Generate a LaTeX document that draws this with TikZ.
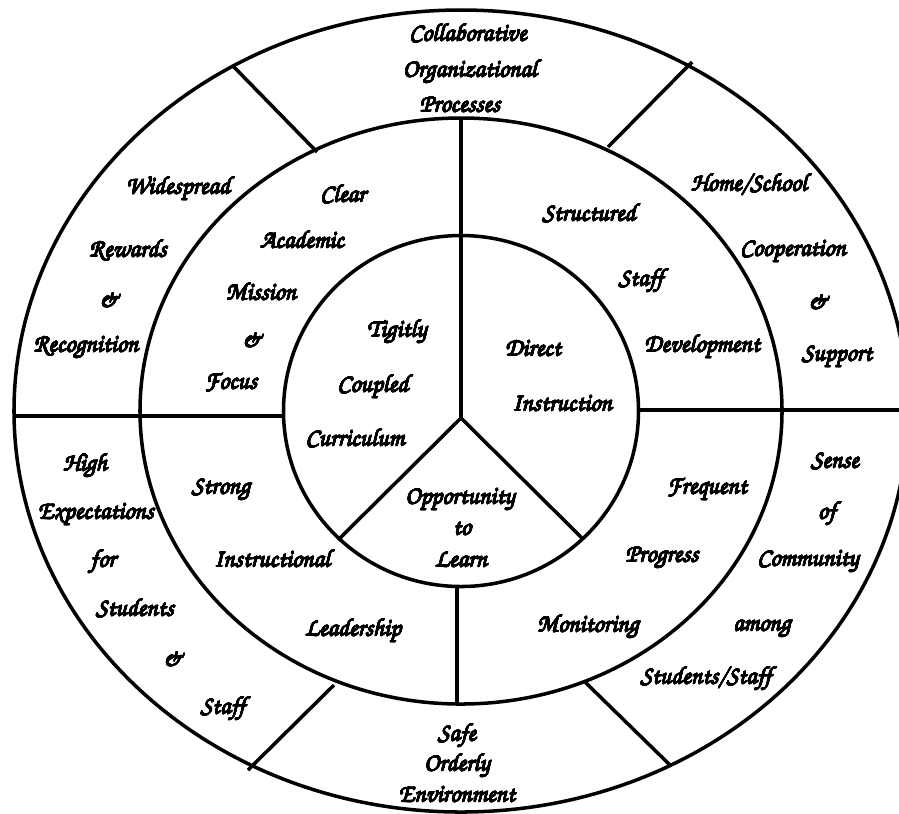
\documentclass[tikz,border=0pt]{standalone}
\usepackage[T1,TU]{fontenc}
\usepackage[copies]{contour}
\contourlength{0.1pt}
\contournumber{16}

\newcommand{\inked}[1]{\contour{black}{#1}}

\tikzset{
    word/.style={font=\fontencoding{T1}\fontfamily{pzc}\fontseries{mb}\fontshape{it}\fontsize{7.1}{8.5}\selectfont,
        inner sep=0pt, text height=5pt, text depth=0pt}
}

\begin{document}
\begin{tikzpicture}[line width=1pt]

    % Define radii of the three rings
    \def\rxo{4.47}
    \def\ryo{4.01}
    \def\rxm{3.21}
    \def\rym{2.93}
    \def\rxi{1.775}
    \def\ryi{1.755}

    \useasboundingbox (-4.61,-4.02) rectangle (4.38,4.11);
    \clip (-4.61,-4.02) rectangle (4.38,4.11);

    % Draw the three rings
    \draw (0,0) ellipse [x radius=\rxo, y radius=\ryo];
    \draw (0,0) ellipse [x radius=\rxm, y radius=\rym];
    \draw (0,0) ellipse [x radius=\rxi, y radius=\ryi];

    % Draw the inner split in three
    \draw (0,\rym) -- (0,-0.07);
    \draw (0,-0.07) -- (-1.23,-1.29);
    \draw (0,-0.07) -- (1.21,-1.27);

    % Draw the middle split in four
    \draw (-0.04,-1.76) -- (-0.04,-2.92);
    \draw (-\rxo,-0.05) -- (-\rxi,-0.05);
    \draw (\rxi,0.01) -- (4.6,0.01);

    % Draw the outer split in six
    \draw (-2.28,3.45) -- (-1.44,2.59);
    \draw (2.31,3.49) -- (1.47,2.64);
    \draw (-1.27,-2.74) -- (-2.13,-3.59);
    \draw (1.24,-2.71) -- (2.09,-3.54);

    % Inner ring
    \node[word] (tig) at (-0.64, 0.83) {\inked{Tigitly}};
    \node[word] (cou) at (-0.88, 0.28) {\inked{Coupled}};
    \node[word] (cur) at (-1.06,-0.26) {\inked{Curriculum}};
    \node[word] (dir) at (0.72, 0.64) {\inked{Direct}};
    \node[word] (ins) at (1.01, 0.09) {\inked{Instruction}};
    \node[word] (opp) at (-0.01,-0.84) {\inked{Opportunity}};
    \node[word] (to)  at (0.01,-1.15) {\inked{to}};
    \node[word] (lea) at (0,-1.47) {\inked{Learn}};

    % Middle ring
    \node[word] (cle) at (-1.18, 2.18) {\inked{Clear}};
    \node[word] (aca) at (-1.59, 1.72) {\inked{Academic}};
    \node[word] (mis) at (-2.00, 1.20) {\inked{Mission}};
    \node[word] (amp1) at (-2.09, 0.73) {\inked{\&}};
    \node[word] (foc) at (-2.30, 0.31) {\inked{Focus}};
    \node[word] (str) at (1.28, 1.99) {\inked{Structured}};
    \node[word] (sta) at (1.80, 1.34) {\inked{Staff}};
    \node[word] (dev) at (2.41, 0.68) {\inked{Development}};
    \node[word] (fre) at (2.46,-0.74) {\inked{Frequent}};
    \node[word] (pro) at (2.01,-1.42) {\inked{Progress}};
    \node[word] (mon) at (1.27,-2.12) {\inked{Monitoring}};
    \node[word] (stro) at (-2.40,-0.74) {\inked{Strong}};
    \node[word] (inst) at (-1.89,-1.47) {\inked{Instructional}};
    \node[word] (lead) at (-1.08,-2.16) {\inked{Leadership}};

    % Outer ring
    \node[word] (col) at (0.07, 3.79) {\inked{Collaborative}};
    \node[word] (org) at (0.09, 3.43) {\inked{Organizational}};
    \node[word] (proc) at (-0.01, 3.08) {\inked{Processes}};
    \node[word] (hom) at (2.88, 2.29) {\inked{Home/School}};
    \node[word] (coo) at (3.32, 1.64) {\inked{Cooperation}};
    \node[word] (amp2) at (3.57, 1.11) {\inked{\&}};
    \node[word] (sup) at (3.76, 0.59) {\inked{Support}};
    \node[word] (sen) at (3.74,-0.48) {\inked{Sense}};
    \node[word] (of)  at (3.66,-0.99) {\inked{of}};
    \node[word] (com) at (3.47,-1.46) {\inked{Community}};
    \node[word] (amo) at (3.01,-2.11) {\inked{among}};
    \node[word] (stst) at (2.45,-2.64) {\inked{Students/Staff}};
    \node[word] (saf) at (-0.04,-3.21) {\inked{Safe}};
    \node[word] (ord) at (-0.04,-3.51) {\inked{Orderly}};
    \node[word] (env) at (-0.04,-3.82) {\inked{Environment}};
    \node[word] (hig) at (-3.76,-0.51) {\inked{High}};
    \node[word] (exp) at (-3.65,-0.99) {\inked{Expectations}};
    \node[word] (for) at (-3.58,-1.47) {\inked{for}};
    \node[word] (stu) at (-3.26,-1.96) {\inked{Students}};
    \node[word] (amp3) at (-2.88,-2.46) {\inked{\&}};
    \node[word] (staf) at (-2.38,-2.94) {\inked{Staff}};
    \node[word] (wid) at (-2.83, 2.26) {\inked{Widespread}};
    \node[word] (rew) at (-3.33, 1.63) {\inked{Rewards}};
    \node[word] (amp4) at (-3.52, 1.13) {\inked{\&}};
    \node[word] (rec) at (-3.75, 0.68) {\inked{Recognition}};

\end{tikzpicture}
\end{document}
